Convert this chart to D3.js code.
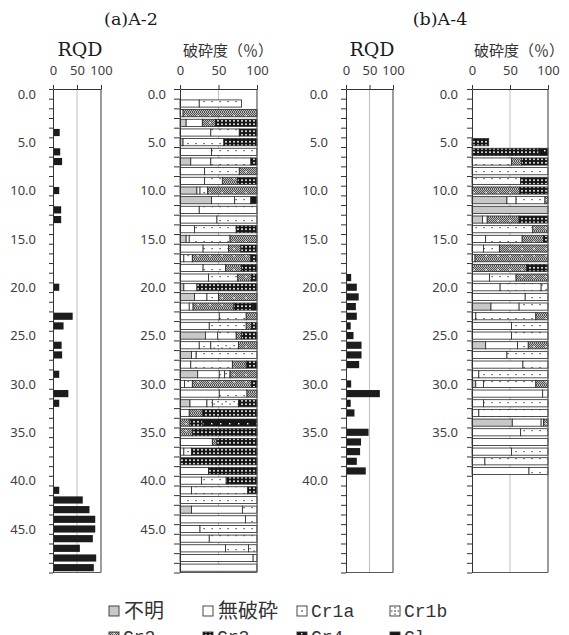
<!DOCTYPE html>
<html><head><meta charset="utf-8">
<script src="https://cdn.jsdelivr.net/npm/d3@7"></script>
<style>body{margin:0;background:#fff;} svg{display:block}</style>
</head><body>
<svg id="c" width="569" height="635"></svg>
<script>
// ---------- data ----------
const depths = d3.range(50).map(i => i.toFixed(1));   // 1 m intervals (category = top depth)
const classNames = ["不明","無破砕","Cr1a","Cr1b","Cr2","Cr3","Cr4","Cl"];
const axisTicks = [0, 50, 100];
const labelsA2 = ["0.0","5.0","10.0","15.0","20.0","25.0","30.0","35.0","40.0","45.0"];
const labelsA4rqd = ["0.0","5.0","10.0","15.0","20.0","25.0","30.0","35.0","40.0"];
const labelsA4crush = ["0.0","5.0","10.0","15.0","20.0","25.0","30.0","35.0"];

// RQD (%)
const rqdA2 = [0,0,0,0,14,0,15,19,0,0, 13,0,17,17,0,0,0,0,0,0, 13,0,0,41,22,0,18,19,0,13,
               0,32,13,0,0,0,0,0,0,0, 0,13,62,76,88,88,83,56,90,85];
const rqdA4 = [0,0,0,0,0,0,0,0,0,0, 0,0,0,0,0,0,0,0,0,11, 23,27,21,23,10,16,33,33,28,0,
               11,72,10,18,0,48,32,30,23,42];

// 破砕度 (%) A-2
const a2Fumei = [0,0,0,8,0,4,0,14,0,0, 22,41,0,0,0,8,0,0,0,0, 5,19,0,0,0,33,0,15,0,23, 0,0,13,0,0,0,0,0,0,0, 0,0,0,15,0,0,0,0,0,0];
const a2Mu    = [0,25,4,21,40,0,41,26,32,32, 4,30,25,48,19,4,30,5,30,37, 17,16,12,51,38,16,25,6,14,28, 6,51,22,12,0,0,42,5,0,37, 28,15,0,66,85,26,38,59,95,100];
const a2Cr1a  = [0,55,0,0,37,53,59,52,45,23, 10,21,75,52,54,53,33,11,29,38, 0,15,5,35,48,24,15,79,54,7, 10,36,7,0,0,0,0,10,0,0, 32,73,100,19,15,74,62,30,5,0];
const a2Cr1b  = [0,0,0,0,0,0,0,0,0,0, 0,0,0,0,0,0,0,0,0,0, 0,0,0,0,0,0,36,0,0,7, 0,0,34,0,0,0,0,0,0,0, 0,0,0,0,0,0,0,11,0,0];
const a2Cr2   = [0,0,96,17,0,0,0,0,23,20, 64,0,0,0,0,35,16,76,21,18, 0,50,53,14,7,7,24,0,18,35, 77,13,0,17,13,16,6,0,0,0, 0,0,0,0,0,0,0,0,0,0];
const a2Cr3   = [0,0,0,54,23,43,0,8,0,25, 0,0,0,0,27,0,21,8,20,7, 78,0,25,0,7,20,0,0,14,0, 7,0,24,71,16,84,52,85,100,63, 40,12,0,0,0,0,0,0,0,0];
const a2Cr4   = [0,0,0,0,0,0,0,0,0,0, 0,0,0,0,0,0,0,0,0,0, 0,0,0,0,0,0,0,0,0,0, 0,0,0,0,71,0,0,0,0,0, 0,0,0,0,0,0,0,0,0,0];
const a2Cl    = [0,0,0,0,0,0,0,0,0,0, 0,8,0,0,0,0,0,0,0,0, 0,0,5,0,0,0,0,0,0,0, 0,0,0,0,0,0,0,0,0,0, 0,0,0,0,0,0,0,0,0,0];

// 破砕度 (%) A-4
const a4Fumei = [0,0,0,0,0,0,0,0,0,0, 0,46,100,14,0,0,0,0,0,0, 0,0,25,0,0,0,18,0,0,0, 5,0,0,0,53,0,0,0,0,0];
const a4Mu    = [0,0,0,0,0,0,0,0,0,0, 0,12,0,6,0,18,15,4,0,23, 37,70,37,5,52,52,42,46,67,9, 10,93,15,9,38,64,100,52,17,75];
const a4Cr1a  = [0,0,0,0,0,0,0,52,100,64, 0,38,0,0,80,48,21,0,0,35, 54,30,38,79,48,48,14,54,33,91, 69,7,85,91,3,36,0,48,83,25];
const a4Cr1b  = [0,0,0,0,0,0,0,0,0,0, 0,0,0,0,0,0,0,0,0,0, 9,0,0,0,0,0,0,0,0,0, 0,0,0,0,0,0,0,0,0,0];
const a4Cr2   = [0,0,0,0,0,0,0,13,0,0, 63,4,0,42,20,28,64,96,72,42, 0,0,0,16,0,0,26,0,0,0, 16,0,0,0,6,0,0,0,0,0];
const a4Cr3   = [0,0,0,0,0,22,88,35,0,36, 37,0,0,38,0,6,0,0,28,0, 0,0,0,0,0,0,0,0,0,0, 0,0,0,0,0,0,0,0,0,0];
const a4Cr4   = [0,0,0,0,0,0,12,0,0,0, 0,0,0,0,0,0,0,0,0,0, 0,0,0,0,0,0,0,0,0,0, 0,0,0,0,0,0,0,0,0,0];
const a4Cl    = [0,0,0,0,0,0,0,0,0,0, 0,0,0,0,0,0,0,0,0,0, 0,0,0,0,0,0,0,0,0,0, 0,0,0,0,0,0,0,0,0,0];

const seriesA2 = [a2Fumei,a2Mu,a2Cr1a,a2Cr1b,a2Cr2,a2Cr3,a2Cr4,a2Cl];
const seriesA4 = [a4Fumei,a4Mu,a4Cr1a,a4Cr1b,a4Cr2,a4Cr3,a4Cr4,a4Cl];

// ---------- drawing ----------
const svg = d3.select("#c");
const defs = svg.append("defs");
function pat(id, w, h) {
  return defs.append("pattern").attr("id", id).attr("width", w).attr("height", h)
    .attr("patternUnits", "userSpaceOnUse");
}
let p = pat("chk", 2, 2);
p.append("rect").attr("width", 2).attr("height", 2).attr("fill", "#bdbdbd");
p.append("rect").attr("width", 1).attr("height", 1).attr("fill", "#505050");
p.append("rect").attr("x", 1).attr("y", 1).attr("width", 1).attr("height", 1).attr("fill", "#505050");
p = pat("pCr1a", 8, 7);
p.append("rect").attr("width", 8).attr("height", 7).attr("fill", "#fff");
p.append("rect").attr("x", 3.5).attr("y", 3).attr("width", 1.2).attr("height", 1.2).attr("fill", "#333");
p = pat("pCr1b", 8, 7);
p.append("rect").attr("width", 8).attr("height", 7).attr("fill", "#fff");
p.append("rect").attr("x", 1.5).attr("y", 2).attr("width", 1.2).attr("height", 1.2).attr("fill", "#333");
p.append("rect").attr("x", 5.5).attr("y", 4.5).attr("width", 1.2).attr("height", 1.2).attr("fill", "#333");
p = pat("pCr2", 12, 7);
p.append("rect").attr("width", 12).attr("height", 7).attr("fill", "url(#chk)");
p.append("rect").attr("x", 5.5).attr("y", 3).attr("width", 1.4).attr("height", 1.4).attr("fill", "#fff");
p = pat("pCr3", 4, 3.5);
p.append("rect").attr("width", 4).attr("height", 3.5).attr("fill", "#151515");
p.append("rect").attr("x", 1).attr("y", 1).attr("width", 2).attr("height", 1.5).attr("fill", "#eee");
p = pat("pCr4", 9, 7);
p.append("rect").attr("width", 9).attr("height", 7).attr("fill", "#151515");
p.append("rect").attr("x", 4).attr("y", 3).attr("width", 1.4).attr("height", 1.4).attr("fill", "#fff");

const fills = ["#c8c8c8", "#ffffff", "url(#pCr1a)", "url(#pCr1b)", "url(#pCr2)", "url(#pCr3)", "url(#pCr4)", "#151515"];

const plotTop = 89, plotBottom = 572.5;
const yBand = d3.scaleBand().domain(depths).range([plotTop, plotBottom]).paddingInner(0).paddingOuter(0);
const yLin = d3.scaleLinear().domain([0, depths.length]).range([plotTop, plotBottom]);
const bw = yBand.bandwidth();
const barOff = bw * 0.13, barH = bw * 0.74;
const axisColor = "#404040";

function frame(x0, x1, labels, labelGap, tickLen) {
  const x = d3.scaleLinear().domain([0, 100]).range([x0, x1]);
  const g = svg.append("g");
  g.append("line").attr("x1", x(50)).attr("x2", x(50)).attr("y1", plotTop).attr("y2", plotBottom)
    .attr("stroke", "#bfbfbf").attr("stroke-width", 1);
  return { x, g, labels, labelGap, tickLen };
}
function finish(f) {
  const { x, g, labels, labelGap, tickLen } = f;
  g.append("line").attr("x1", x(100)).attr("x2", x(100)).attr("y1", plotTop).attr("y2", plotBottom)
    .attr("stroke", "#595959").attr("stroke-width", 1.2);
  g.append("line").attr("x1", x(0)).attr("x2", x(100)).attr("y1", plotBottom).attr("y2", plotBottom)
    .attr("stroke", "#595959").attr("stroke-width", 1.2);
  const ta = g.append("g").attr("transform", `translate(0,${plotTop})`)
    .call(d3.axisTop(x).tickValues(axisTicks).tickSize(4).tickPadding(10).tickSizeOuter(0));
  ta.select(".domain").attr("stroke", "#333");
  ta.selectAll(".tick line").attr("stroke", "#333");
  ta.selectAll("text").attr("font-family", "'Noto Sans', sans-serif").attr("font-size", 13).attr("fill", axisColor);
  const la = g.append("g").attr("transform", `translate(${x(0)},0)`)
    .call(d3.axisLeft(yLin).tickValues(d3.range(depths.length + 1)).tickSize(tickLen).tickFormat("").tickSizeOuter(0));
  la.select(".domain").attr("stroke", "#333");
  la.selectAll(".tick line").attr("stroke", "#333");
  g.selectAll("text.yl").data(labels).join("text").attr("class", "yl")
    .attr("x", x(0) - labelGap).attr("y", d => yBand(d) + bw / 2).attr("dy", "0.36em")
    .attr("text-anchor", "end").attr("font-family", "'Noto Sans', sans-serif")
    .attr("font-size", 13).attr("fill", axisColor).text(d => d);
}

function rqdChart(x0, x1, data, labels, gap, tl) {
  const f = frame(x0, x1, labels, gap, tl);
  f.g.selectAll("rect.rqd").data(data.map((v, i) => ({ v, d: depths[i] })).filter(o => o.v > 0))
    .join("rect").attr("class", "rqd")
    .attr("x", f.x(0)).attr("y", o => yBand(o.d) + barOff)
    .attr("width", o => f.x(o.v) - f.x(0)).attr("height", barH)
    .attr("fill", "#1c1c1c");
  finish(f);
}
function crushChart(x0, x1, series, labels, gap, tl) {
  const f = frame(x0, x1, labels, gap, tl);
  const n = series[0].length;
  const segs = [];
  for (let i = 0; i < n; i++) {
    let cum = 0;
    series.forEach((s, k) => {
      const v = s[i];
      if (v > 0) { segs.push({ d: depths[i], a: cum, b: cum + v, k }); cum += v; }
    });
  }
  f.g.selectAll("rect.seg").data(segs).join("rect").attr("class", "seg")
    .attr("x", s => f.x(s.a)).attr("y", s => yBand(s.d) + barOff)
    .attr("width", s => f.x(s.b) - f.x(s.a)).attr("height", barH)
    .attr("fill", s => fills[s.k]).attr("stroke", "#262626").attr("stroke-width", 0.8);
  finish(f);
}

rqdChart(53, 101, rqdA2, labelsA2, 17, 4);
crushChart(180, 257, seriesA2, labelsA2, 14, 6);
rqdChart(346, 393, rqdA4, labelsA4rqd, 18, 5);
crushChart(472, 548, seriesA4, labelsA4crush, 14, 5);

const serif = "'DejaVu Serif', 'Liberation Serif', serif";
const titles = [
  { t: "(a)A-2", x: 131, y: 25, s: 17.5, f: serif },
  { t: "(b)A-4", x: 440, y: 25, s: 17.5, f: serif },
  { t: "RQD", x: 80, y: 56, s: 19, f: serif },
  { t: "RQD", x: 372, y: 56, s: 19, f: serif }
];
svg.selectAll("text.title").data(titles).join("text").attr("class", "title")
  .attr("x", d => d.x).attr("y", d => d.y).attr("text-anchor", "middle")
  .attr("font-family", d => d.f).attr("font-size", d => d.s).attr("fill", "#1a1a1a").text(d => d.t);
const hdr = [{ x: 183 }, { x: 474 }];
svg.selectAll("text.hdr").data(hdr).join("text").attr("class", "hdr")
  .attr("x", d => d.x).attr("y", 56).attr("font-family", "'Noto Sans CJK JP', sans-serif")
  .attr("font-size", 15).attr("fill", "#333").text("破砕度（％）");

const legCols = [109, 203, 297, 390];
const legRows = [611, 637];
const lg = svg.append("g");
classNames.forEach((name, k) => {
  const cx = legCols[k % 4], cy = legRows[Math.floor(k / 4)];
  const sym = lg.append("g");
  sym.append("rect").attr("x", cx).attr("y", cy - 5).attr("width", 10).attr("height", 10)
    .attr("fill", k === 2 || k === 3 ? "#fff" : fills[k]).attr("stroke", "#333").attr("stroke-width", 0.9);
  if (k === 2 || k === 3) {
    sym.append("rect").attr("x", cx + 4.3).attr("y", cy - 0.7).attr("width", 1.4).attr("height", 1.4).attr("fill", "#333");
    if (k === 3) {
      sym.append("line").attr("x1", cx + 5).attr("x2", cx + 5).attr("y1", cy - 4).attr("y2", cy - 2.5).attr("stroke", "#333");
      sym.append("line").attr("x1", cx + 5).attr("x2", cx + 5).attr("y1", cy + 2.5).attr("y2", cy + 4).attr("stroke", "#333");
      sym.append("line").attr("x1", cx + 1).attr("x2", cx + 2.5).attr("y1", cy).attr("y2", cy).attr("stroke", "#333");
      sym.append("line").attr("x1", cx + 7.5).attr("x2", cx + 9).attr("y1", cy).attr("y2", cy).attr("stroke", "#333");
    }
  }
  const cjk = /[^\x00-\x7f]/.test(name);
  lg.append("text").attr("x", cx + (cjk ? 15 : 14)).attr("y", cy).attr("dy", "0.36em")
    .attr("font-family", cjk ? "'Noto Sans CJK JP', sans-serif" : "'Liberation Mono', monospace")
    .attr("font-size", cjk ? 20 : 18).attr("fill", "#333").text(name);
});
</script>
</body></html>
